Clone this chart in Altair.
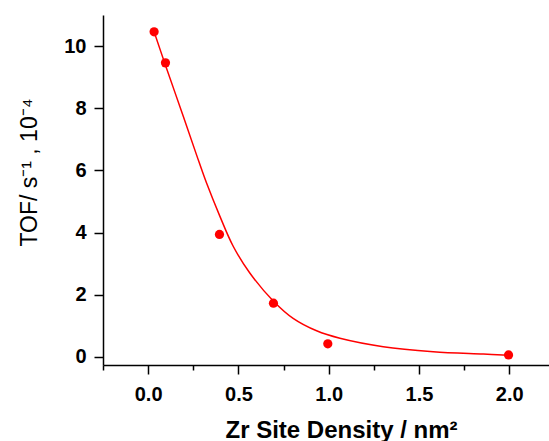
import altair as alt
import pandas as pd

# measured data points
pt_x = [0.033, 0.096, 0.395, 0.694, 0.995, 1.996]
pt_y = [10.46, 9.46, 3.94, 1.73, 0.42, 0.065]

# fitted curve
fit_x = [0.033, 0.092, 0.194, 0.268, 0.323, 0.397, 0.471, 0.563, 0.693, 0.803, 0.933, 1.062, 1.302, 1.579, 1.856, 1.995]
fit_y = [10.46, 9.45, 7.75, 6.50, 5.60, 4.53, 3.56, 2.70, 1.80, 1.24, 0.84, 0.60, 0.33, 0.17, 0.09, 0.05]

x_ticks = [-0.25, 0.0, 0.25, 0.5, 0.75, 1.0, 1.25, 1.5, 1.75, 2.0]
y_ticks = [0, 1, 2, 3, 4, 5, 6, 7, 8, 9, 10, 11]

points = pd.DataFrame({"x": pt_x, "y": pt_y})
fit = pd.DataFrame({"x": fit_x, "y": fit_y})

FONT = "Liberation Sans"
xscale = alt.Scale(domain=[-0.25, 2.22], nice=False, zero=False)
yscale = alt.Scale(domain=[-0.26, 11], nice=False, zero=False)

x_major = "datum.value >= 0 && abs(datum.value*2 - round(datum.value*2)) < 0.001"
y_major = "datum.value % 2 == 0"

x_axis = alt.Axis(
    values=x_ticks,
    title="Zr Site Density / nm²",
    grid=False,
    labelExpr=f"({x_major}) ? format(datum.value, '.1f') : ''",
    tickSize={"condition": {"test": x_major, "value": 9}, "value": 5},
    labelPadding=10,
    labelOverlap=False,
    labelFlush=False,
    labelFont=FONT,
    labelFontSize=20,
    labelFontWeight="bold",
    labelColor="black",
    titleFont=FONT,
    titleFontSize=24,
    titleFontWeight="bold",
    titleColor="black",
    titleX=238,
    titleY=72,
    titleBaseline="alphabetic",
    domainColor="black",
    domainWidth=1.5,
    tickColor="black",
    tickWidth=1.5,
)

y_axis = alt.Axis(
    values=y_ticks,
    title="TOF/ s⁻¹ , 10⁻⁴",
    grid=False,
    labelExpr=f"({y_major}) ? format(datum.value, 'd') : ''",
    tickSize={"condition": {"test": y_major, "value": 9}, "value": 5},
    labelPadding=8,
    labelOverlap=False,
    labelFlush=False,
    labelFont=FONT,
    labelFontSize=20,
    labelFontWeight="bold",
    labelColor="black",
    titleFont=FONT,
    titleFontSize=23,
    titleFontWeight="normal",
    titleColor="black",
    titleX=-74,
    titleY=157,
    titleBaseline="middle",
    titleAngle=270,
    domainColor="black",
    domainWidth=1.5,
    tickColor="black",
    tickWidth=1.5,
)

line = alt.Chart(fit).mark_line(color="#ff0000", strokeWidth=1.5, interpolate="catmull-rom").encode(
    x=alt.X("x:Q", scale=xscale, axis=x_axis),
    y=alt.Y("y:Q", scale=yscale, axis=y_axis),
)

dots = alt.Chart(points).mark_circle(color="#ff0000", size=85, opacity=1).encode(
    x=alt.X("x:Q", scale=xscale),
    y=alt.Y("y:Q", scale=yscale),
)

chart = alt.layer(line, dots).properties(
    width=446,
    height=350,
    autosize=alt.AutoSizeParams(type="none"),
    padding={"left": 103, "top": 15, "right": 0, "bottom": 76},
    background="white",
).configure_view(stroke=None)

chart.save("out.html", embed_options={"renderer": "svg", "actions": False})
